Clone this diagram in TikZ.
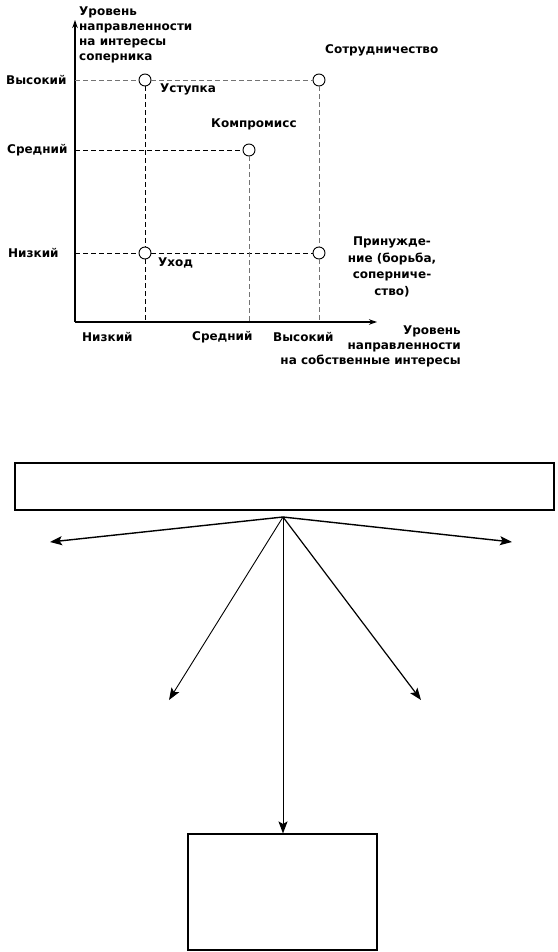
\documentclass[tikz,border=0pt]{standalone}
\usepackage{fontspec}
\setmainfont{DejaVu Sans}
\usetikzlibrary{arrows.meta}
\begin{document}
\begin{tikzpicture}[x=1pt,y=-1pt,
  lbl/.style={inner sep=0pt, font=\fontsize{12}{15}\selectfont\bfseries},
  pt/.style={circle, draw, line width=0.9pt, minimum size=12pt, inner sep=0pt, fill=white},
  dshk/.style={dash pattern=on 5pt off 3pt, line width=0.9pt, black},
  dshg/.style={dash pattern=on 5pt off 3pt, line width=0.9pt, black!55},
  axis/.style={line width=1.2pt, -{Stealth[length=8pt,width=5.5pt]}},
  arr/.style={line width=1.2pt, -{Stealth[length=12pt,width=9pt,inset=2.5pt]}},
  boxst/.style={draw, line width=1.1pt, inner sep=0pt}]
\useasboundingbox (0,0) rectangle (557,952);
% axes
\coordinate (O) at (75,322);
\coordinate (ytop) at (75,20);
\coordinate (xend) at (377,322);
\draw[axis] (O) -- (ytop);
\draw[axis] (O) -- (xend);
% axis anchor coordinates
\coordinate (yH) at (75,80);
\coordinate (yM) at (75,150);
\coordinate (yL) at (75,253);
\coordinate (xL) at (145,322);
\coordinate (xM) at (249,322);
\coordinate (xH) at (319,322);
% points
\node[pt] (p1) at (145,80) {};
\node[pt] (p2) at (319,80) {};
\node[pt] (p3) at (249,150) {};
\node[pt] (p4) at (145,253) {};
\node[pt] (p5) at (319,253) {};
% dashed guides
\draw[dshg] (yH) -- (p1);
\draw[dshg] (p1) -- (p2);
\draw[dshk] (yM) -- (p3);
\draw[dshk] (yL) -- (p4);
\draw[dshk] (p4) -- (p5);
\draw[dshk] (p1) -- (p4);
\draw[dshk] (p4) -- (xL);
\draw[dshg] (p3) -- (xM);
\draw[dshg] (p2) -- (p5);
\draw[dshg] (p5) -- (xH);
% labels
\node[lbl, anchor=west, align=left] (ylab) at (79,34.5) {Уровень\\направленности\\на интересы\\соперника};
\node[lbl, anchor=west] (lH) at (6,80) {Высокий};
\node[lbl, anchor=west] (lM) at (7,150) {Средний};
\node[lbl, anchor=west] (lL) at (8,253) {Низкий};
\node[lbl, anchor=west] (t1) at (160,89) {Уступка};
\node[lbl, anchor=west] (t2) at (211,124) {Компромисс};
\node[lbl, anchor=west] (t3) at (325,50) {Сотрудничество};
\node[lbl, anchor=west] (t4) at (158,263) {Уход};
\node[lbl, align=center, font=\fontsize{12}{16.5}\selectfont\bfseries] (t5) at (392,267) {Принужде-\\ние (борьба,\\соперниче-\\ство)};
\node[lbl, anchor=west] (bL) at (82,337) {Низкий};
\node[lbl, anchor=west] (bM) at (192,337) {Средний};
\node[lbl, anchor=west] (bH) at (273,337) {Высокий};
\node[lbl, anchor=east, align=right] (xlab) at (461,346) {Уровень\\направленности\\на собственные интересы};
% lower scheme
\node[boxst, minimum width=539pt, minimum height=47pt] (big) at (284.5,486.5) {};
\node[boxst, minimum width=189pt, minimum height=116pt] (small) at (282.5,892) {};
\coordinate (apex) at (283,517);
\coordinate (aL) at (50,542);
\coordinate (aR) at (512,542);
\coordinate (aDL) at (169,700);
\coordinate (aDR) at (421,700);
\draw[arr, line width=1.4pt] (apex) -- (aL);
\draw[arr, line width=1.4pt] (apex) -- (aR);
\draw[arr, line width=0.9pt] (apex) -- (aDL);
\draw[arr] (apex) -- (aDR);
\draw[arr, line width=1pt] (apex) -- (apex |- small.north);
\end{tikzpicture}
\end{document}
